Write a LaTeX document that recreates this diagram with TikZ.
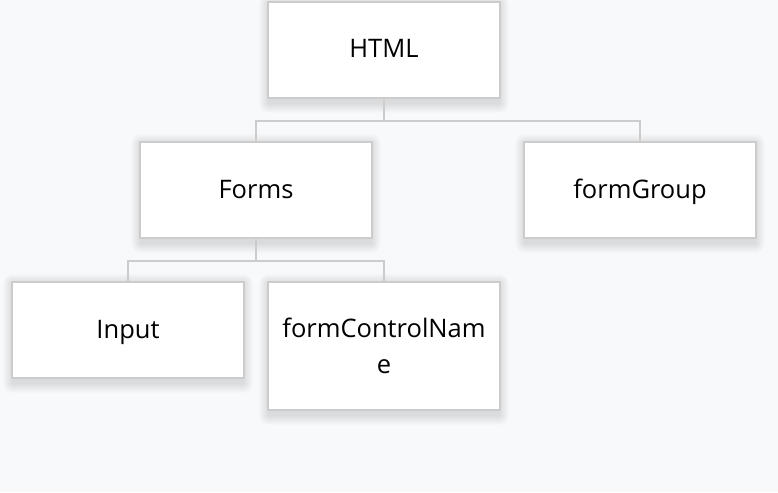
\documentclass[tikz,border=0pt]{standalone}
\usepackage{fontspec}
\setmainfont{Open Sans}
\usetikzlibrary{backgrounds}
\definecolor{bgc}{HTML}{F8F9FB}
\definecolor{edgec}{HTML}{CCCCCC}
\tikzset{
  box/.style={draw=edgec, line width=2pt, fill=white, minimum width=232pt, minimum height=96pt,
    inner sep=0pt, align=center, font=\fontsize{25.5}{36}\selectfont},
  oneline/.style={box, text height=20pt, text depth=4pt},
  conn/.style={draw=edgec, line width=2pt},
  shadowpiece/.style={fill=black, fill opacity=0.012}
}
\begin{document}
\begin{tikzpicture}[x=1pt,y=-1pt]
\useasboundingbox (0,0) rectangle (778,492);
\node[oneline] (html) at (384,50) {HTML};
\node[oneline] (forms) at (256,190) {Forms};
\node[oneline] (fg) at (640,190) {formGroup};
\node[oneline] (input) at (128,330) {Input};
\node[box, minimum height=128pt] (fcn) at (384,346) {formControlNam\\e};
\draw[conn] (html.south) -- ++(0,22) coordinate (j1) -| (forms.north);
\draw[conn] (j1) -| (fg.north);
\draw[conn] (forms.south) -- ++(0,22) coordinate (j2) -| (input.north);
\draw[conn] (j2) -| (fcn.north);
\begin{scope}[on background layer]
\fill[bgc] (0,0) rectangle (778,492);
\foreach \n in {html,forms,fg,input,fcn}{
  \foreach \i in {1,...,10}{
    \fill[shadowpiece, rounded corners=\i pt] ([xshift=-\i pt+2pt, yshift=\i pt-3pt]\n.north west) rectangle ([xshift=\i pt-2pt, yshift=-\i pt-4pt]\n.south east);
  }
}
\end{scope}
\end{tikzpicture}
\end{document}
